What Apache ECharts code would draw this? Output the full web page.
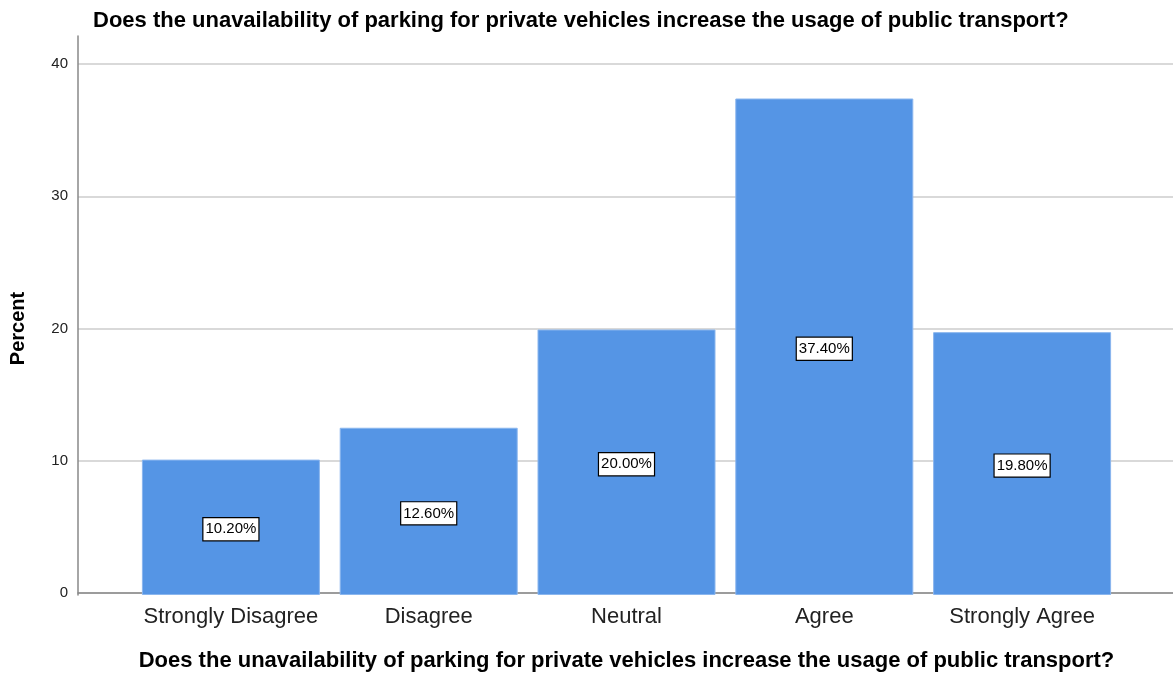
<!DOCTYPE html>
<html>
<head>
<meta charset="utf-8">
<script src="https://cdn.jsdelivr.net/npm/echarts@6/dist/echarts.min.js"></script>
<style>
  html, body { margin: 0; padding: 0; background: #fff; }
  #chart { width: 1173px; height: 677px; }
</style>
</head>
<body>
<div id="chart"></div>
<script>
// Survey responses, percent of respondents
const categories = ['Strongly Disagree', 'Disagree', 'Neutral', 'Agree', 'Strongly Agree'];
const percents = [10.2, 12.6, 20.0, 37.4, 19.8];
const yTicks = [0, 10, 20, 30, 40];
const question = 'Does the unavailability of parking for private vehicles increase the usage of public transport?';

const chart = echarts.init(document.getElementById('chart'), null, { renderer: 'canvas' });
const font = 'Liberation Sans, Arial, sans-serif';

// Plot geometry: baseline at y=595, the 40 line at y=64, axis line tops out at y=36
const bottomPad = 82;
const tickMax = 40;
const axisTop = 36;
const tickTop = 64;
const pxPerUnit = (677 - bottomPad - tickTop) / tickMax;
const axisMax = (677 - bottomPad - axisTop) / pxPerUnit;

chart.setOption({
  animation: false,
  backgroundColor: '#ffffff',
  title: {
    text: question,
    left: 88,
    top: 5,
    textStyle: { fontFamily: font, fontSize: 22, fontWeight: 'bold', color: '#000' }
  },
  grid: [
    // ticks, gridlines and baseline span the full width
    { left: 78, right: 0, top: tickTop, bottom: bottomPad },
    // bars sit inside a padded interior; its y axis draws the tall axis line
    { left: 132, right: 52, top: axisTop, bottom: bottomPad }
  ],
  xAxis: [
    {
      gridIndex: 0, type: 'category', data: categories,
      axisLine: { show: true, lineStyle: { color: '#888', width: 1.5 } },
      axisTick: { show: false }, axisLabel: { show: false },
      name: question, nameLocation: 'middle', nameGap: 57,
      nameTextStyle: { fontFamily: font, fontSize: 22, fontWeight: 'bold', color: '#000', padding: [0, 0, 0, 2] }
    },
    {
      gridIndex: 1, type: 'category', data: categories,
      axisLine: { show: false }, axisTick: { show: false },
      axisLabel: { fontFamily: font, fontSize: 22, color: '#222', margin: 11, interval: 0, hideOverlap: false }
    }
  ],
  yAxis: [
    {
      gridIndex: 0, type: 'value', min: 0, max: tickMax, interval: 10,
      axisLine: { show: false },
      axisTick: { show: false },
      axisLabel: {
        fontFamily: font, fontSize: 15, color: '#222', margin: 10,
        formatter: v => (yTicks.includes(v) ? String(v) : '')
      },
      splitLine: { show: true, lineStyle: { color: '#cccccc', width: 1.5 } },
      name: 'Percent', nameLocation: 'middle', nameGap: 50, nameRotate: 90,
      nameTextStyle: { fontFamily: font, fontSize: 20, fontWeight: 'bold', color: '#000' }
    },
    {
      gridIndex: 1, type: 'value', min: 0, max: axisMax, offset: 54,
      axisLine: { show: true, lineStyle: { color: '#888', width: 1.5 } },
      axisTick: { show: false }, axisLabel: { show: false },
      splitLine: { show: false }
    }
  ],
  series: [
    {
      type: 'bar',
      xAxisIndex: 1, yAxisIndex: 1,
      data: percents,
      barWidth: 178,
      itemStyle: { color: '#5595e5', borderColor: '#8ab6ee', borderWidth: 1 },
      label: {
        show: true,
        position: 'inside',
        offset: [0, 2],
        formatter: p => p.value.toFixed(2) + '%',
        fontFamily: font, fontSize: 15, color: '#000',
        backgroundColor: '#ffffff',
        borderColor: '#000', borderWidth: 1.2,
        padding: [4, 2, 3, 2]
      }
    }
  ]
});
</script>
</body>
</html>
